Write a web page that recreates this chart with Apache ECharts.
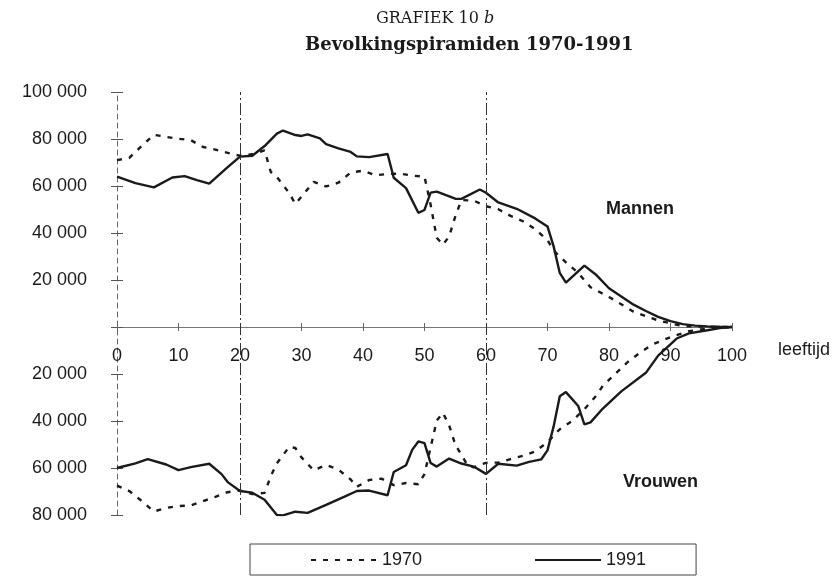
<!DOCTYPE html>
<html>
<head>
<meta charset="utf-8">
<title>Bevolkingspiramiden 1970-1991</title>
<script src="https://cdn.jsdelivr.net/npm/echarts@6/dist/echarts.min.js"></script>
<style>
  html, body { margin: 0; padding: 0; background: #fff; }
  #chart { width: 833px; height: 581px; }
</style>
</head>
<body>
<div id="chart"></div>
<script>
// Mannen (boven de as), leeftijd -> aantal
const ageMen1970 = [0, 2, 4, 6, 8, 10, 12, 14, 16, 19, 20, 22, 24, 25, 26, 28, 29, 30, 32, 34, 36, 38, 40, 42, 44, 46, 48, 50, 51, 52, 53, 54, 55, 56, 58, 60, 62, 64, 66, 68, 70, 71, 73, 75, 77, 80, 84, 88, 92, 96, 100];
const men1970 = [71000, 72000, 77000, 81800, 80900, 80100, 79500, 76600, 75500, 73400, 72900, 73500, 75200, 66000, 63800, 57000, 52400, 55500, 61800, 59800, 61400, 65700, 66500, 64600, 65100, 65300, 64400, 64000, 52000, 38000, 35000, 38500, 47000, 54000, 53800, 51400, 50100, 47300, 45000, 41600, 37000, 32500, 27500, 23000, 16900, 12800, 6500, 2800, 350, 100, 0];

const ageMen1991 = [0, 3, 6, 9, 11, 13, 15, 18, 20, 22, 24, 26, 27, 29, 30, 31, 33, 34, 36, 38, 39, 41, 44, 45, 47, 49, 50, 51, 52, 55, 56, 59, 60, 62, 65, 68, 70, 71, 72, 73, 76, 78, 80, 82, 84, 86, 88, 90, 92, 94, 96, 98, 100];
const men1991 = [64000, 61200, 59400, 63600, 64200, 62500, 61000, 68000, 72500, 72900, 77000, 82300, 83600, 81700, 81300, 82000, 80300, 77800, 76000, 74500, 72600, 72300, 73600, 63500, 59100, 48600, 49800, 57200, 57600, 54600, 54500, 58500, 57100, 53000, 50300, 46200, 42800, 34300, 23000, 18900, 26100, 22000, 16500, 13000, 9500, 6800, 4300, 2500, 1200, 600, 250, 100, 0];

// Vrouwen (onder de as)
const ageWomen1970 = [0, 2, 4, 6, 8, 10, 12, 14, 16, 18, 20, 22, 24, 25, 26, 28, 29, 30, 32, 34, 36, 38, 39, 41, 43, 45, 47, 49, 50, 51, 52, 53, 54, 55, 57, 58, 60, 62, 64, 66, 68, 70, 72, 74, 76, 78, 79, 81, 83, 85, 87, 90, 93, 95, 100];
const women1970 = [67500, 69800, 74000, 78500, 77000, 76200, 75900, 74100, 72300, 70300, 69500, 71100, 70600, 63500, 58000, 51000, 51500, 55500, 61000, 58700, 60700, 64900, 68000, 65100, 64500, 67300, 66400, 66900, 62600, 51200, 39800, 36500, 41800, 50000, 58800, 59700, 57800, 57700, 56200, 54800, 53000, 49000, 43500, 40000, 35000, 29000, 25000, 20000, 15000, 11000, 7500, 4300, 1800, 1000, 0];

const ageWomen1991 = [0, 3, 5, 8, 10, 12, 15, 17, 18, 20, 22, 24, 26, 27, 29, 31, 34, 37, 39, 41, 44, 45, 47, 48, 49, 50, 51, 52, 54, 56, 58, 60, 62, 65, 67, 69, 70, 71, 72, 73, 75, 76, 77, 79, 82, 86, 88, 91, 93, 96, 98, 100];
const women1991 = [60000, 58000, 56200, 58500, 60900, 59600, 58200, 62600, 66000, 69800, 70500, 73500, 80000, 80200, 78600, 79100, 75700, 72200, 69800, 69600, 71600, 61700, 58800, 52300, 48700, 49400, 57900, 59400, 56000, 58100, 59400, 62500, 58200, 59000, 57400, 56300, 52500, 42300, 29500, 27700, 33600, 41400, 40600, 34700, 27400, 19500, 12200, 4900, 2700, 1400, 500, 0];

const ageTicks = [0, 100, 10];         // min, max, interval
const countTicks = [-80000, 100000, 20000];
const guideAges = [20, 60];

const sans = "'Liberation Sans', Arial, sans-serif";
const serif = "'DejaVu Serif', serif";
const ink = '#1a1a1a';

const pairs = (ages, vals, sign) => ages.map((a, i) => [a, sign * vals[i]]);
const fmtCount = (v) => (v === 0 ? '' : String(Math.abs(v)).replace(/\B(?=(\d{3})+(?!\d))/g, ' '));

// grid: top 92, height 423 -> nul-lijn ligt 188px boven de onderrand
const gridTop = 92;
const gridBottom = 66;
const zeroLift = -188;

const dashed = { color: ink, width: 2.4, type: [5, 7] };
const solid = { color: ink, width: 2.4, type: 'solid' };

const chart = echarts.init(document.getElementById('chart'));
chart.setOption({
  animation: false,
  backgroundColor: '#fff',
  title: [
    {
      text: 'GRAFIEK 10 {i|b}',
      left: 371,
      top: 6,
      textStyle: {
        fontFamily: serif, fontSize: 16, fontWeight: 'normal', color: ink,
        rich: { i: { fontFamily: serif, fontSize: 16, fontStyle: 'italic', color: ink } }
      }
    },
    {
      text: 'Bevolkingspiramiden 1970-1991',
      left: 300,
      top: 31,
      textStyle: { fontFamily: serif, fontSize: 18, fontWeight: 'bold', color: ink }
    }
  ],
  legend: {
    data: ['1970', '1991'],
    left: 250,
    top: 544,
    itemWidth: 66,
    itemHeight: 14,
    itemGap: 112,
    padding: [7, 50, 6, 60],
    borderColor: '#444',
    borderWidth: 1,
    itemStyle: { color: 'rgba(0,0,0,0)', borderWidth: 0 },
    textStyle: { fontFamily: sans, fontSize: 18, color: ink }
  },
  grid: { left: 117, right: 99, top: gridTop, bottom: gridBottom },
  xAxis: [
    {
      type: 'value',
      min: ageTicks[0], max: ageTicks[1], interval: ageTicks[2],
      position: 'bottom',
      offset: zeroLift,
      name: 'leeftijd',
      nameLocation: 'end',
      nameGap: 46,
      nameTextStyle: { fontFamily: sans, fontSize: 18, color: ink, verticalAlign: 'top', padding: [14, 0, 0, 0] },
      axisLine: { onZero: false, lineStyle: { color: '#777', width: 1 } },
      axisTick: { length: 4, lineStyle: { color: '#666' } },
      axisLabel: { margin: 20, fontFamily: sans, fontSize: 18, color: ink },
      splitLine: { show: false }
    },
    {
      // tweede as alleen voor de kruisjes op de x-as
      type: 'value',
      min: ageTicks[0], max: ageTicks[1], interval: ageTicks[2],
      position: 'bottom',
      offset: zeroLift,
      axisLine: { show: false, onZero: false },
      axisTick: { inside: true, length: 4, lineStyle: { color: '#666' } },
      axisLabel: { show: false },
      splitLine: { show: false }
    }
  ],
  yAxis: [
    {
      type: 'value',
      min: countTicks[0], max: countTicks[1], interval: countTicks[2],
      axisLine: { show: true, onZero: false, lineStyle: { color: '#666', width: 1, type: [5, 4] } },
      axisTick: { show: true, length: 6, lineStyle: { color: '#555' } },
      axisLabel: { margin: 30, fontFamily: sans, fontSize: 18, color: ink, formatter: fmtCount },
      splitLine: { show: false }
    },
    {
      type: 'value',
      min: countTicks[0], max: countTicks[1], interval: countTicks[2],
      position: 'left',
      axisLine: { show: false },
      axisTick: { show: true, inside: true, length: 6, lineStyle: { color: '#555' } },
      axisLabel: { show: false },
      splitLine: { show: false }
    }
  ],
  series: [
    {
      name: '1970', type: 'line', symbol: 'none',
      data: pairs(ageMen1970, men1970, 1),
      lineStyle: dashed, itemStyle: { color: ink },
      markLine: {
        silent: true, symbol: 'none', label: { show: false },
        lineStyle: { color: '#333', width: 1, type: [12, 3, 2, 3] },
        data: guideAges.map((a) => ({ xAxis: a }))
      }
    },
    {
      name: '1970', type: 'line', symbol: 'none',
      data: pairs(ageWomen1970, women1970, -1),
      lineStyle: dashed, itemStyle: { color: ink }
    },
    {
      name: '1991', type: 'line', symbol: 'none',
      data: pairs(ageMen1991, men1991, 1),
      lineStyle: solid, itemStyle: { color: ink }
    },
    {
      name: '1991', type: 'line', symbol: 'none',
      data: pairs(ageWomen1991, women1991, -1),
      lineStyle: solid, itemStyle: { color: ink }
    }
  ],
  graphic: [
    { type: 'text', left: 606, top: 200, style: { text: 'Mannen', font: "bold 18px 'Liberation Sans', Arial, sans-serif", fill: ink } },
    { type: 'text', left: 623, top: 473, style: { text: 'Vrouwen', font: "bold 18px 'Liberation Sans', Arial, sans-serif", fill: ink } }
  ]
});
</script>
</body>
</html>
